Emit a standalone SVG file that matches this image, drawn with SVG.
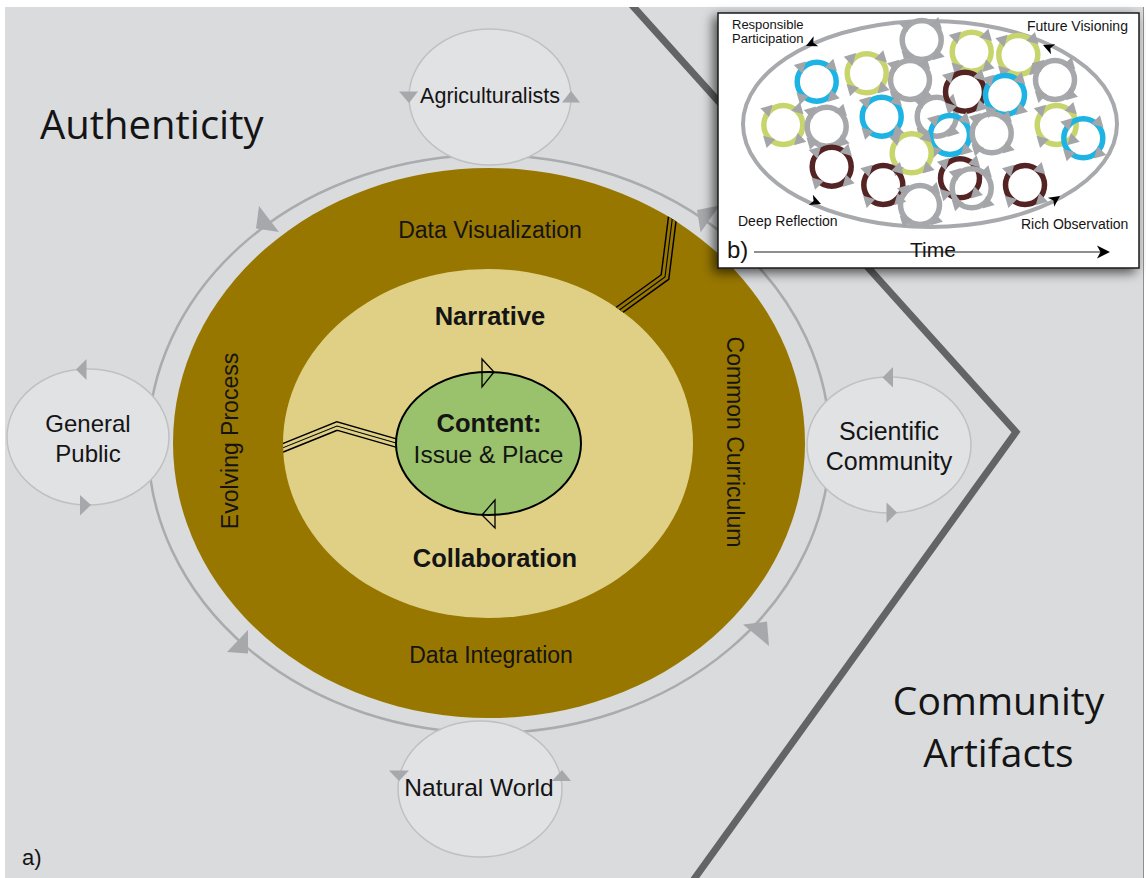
<svg xmlns="http://www.w3.org/2000/svg" xmlns:xlink="http://www.w3.org/1999/xlink" width="1146" height="878" viewBox="0 0 1146 878">
  <defs>
    <style>
      text { font-family: "Liberation Sans", Arial, sans-serif; fill: #141414; }
      .big { font-family: "Open Sans", "Noto Sans", sans-serif; }
      .node { fill: #e1e2e4; stroke: #bfc0c2; stroke-width: 1.5; }
      .tri { fill: #a6a8ab; }
      .lbl { font-size: 23px; text-anchor: middle; }
      .bold { font-weight: bold; font-size: 25.5px; text-anchor: middle; }
      .nl { font-size: 24.5px; text-anchor: middle; }
      .r { fill: none; stroke-width: 5.5; }
      .gy { stroke: #a6a8ab; }
      .yg { stroke: #c8d46c; }
      .cy { stroke: #1db4e4; }
      .br { stroke: #542424; }
      .sm { font-size: 14px; }
      .xs { font-size: 13px; }
      .tl { fill: none; stroke-linejoin: miter; stroke-miterlimit: 10; }
      .open { fill: none; stroke: #000; stroke-width: 1.3; stroke-linejoin: miter; }
    </style>
    <filter id="shadow" x="-10%" y="-10%" width="120%" height="125%">
      <feDropShadow dx="-4" dy="4" stdDeviation="6" flood-color="#000" flood-opacity="0.65"/>
    </filter>
    <clipPath id="page"><rect x="5" y="7" width="1138" height="871"/></clipPath>
    <clipPath id="band">
      <path clip-rule="evenodd" d="M173,443 a316,275 0 1,0 632,0 a316,275 0 1,0 -632,0 Z M283,443.5 a205,174.5 0 1,0 410,0 a205,174.5 0 1,0 -410,0 Z"/>
    </clipPath>
    <clipPath id="core">
      <ellipse cx="488" cy="443.5" rx="205" ry="174.5"/>
    </clipPath>
    <!-- four little turning arrows around a ring -->
    <g id="spin" fill="#a3a5a8" transform="scale(1.12)">
      <polygon points="9.55,18.03 20.51,14.85 12.73,7.07"/>
      <polygon points="-18.03,9.55 -14.85,20.51 -7.07,12.73"/>
      <polygon points="-9.55,-18.03 -20.51,-14.85 -12.73,-7.07"/>
      <polygon points="18.03,-9.55 14.85,-20.51 7.07,-12.73"/>
    </g>
    <g id="ring-gy"><circle r="19.5" class="r gy"/><use xlink:href="#spin"/></g>
    <g id="ring-yg"><circle r="19.5" class="r yg"/><use xlink:href="#spin"/></g>
    <g id="ring-cy"><circle r="19.5" class="r cy"/><use xlink:href="#spin"/></g>
    <g id="ring-br"><circle r="19.5" class="r br"/><use xlink:href="#spin"/></g>
    <path id="ah" d="M0,0 L-11,-5.5 L-8,0 L-11,5.5 Z" fill="#000"/>
  </defs>

  <!-- page -->
  <rect x="0" y="0" width="1146" height="878" fill="#ffffff"/>
  <rect x="5" y="7" width="1138" height="871" fill="#dadbdd"/>
  <line x1="1143.5" y1="7" x2="1143.5" y2="878" stroke="#8e8f91" stroke-width="1"/>

  <!-- boundary chevron -->
  <polyline points="630,3 1016,432 692,882" fill="none" stroke="#636466" stroke-width="7" stroke-linejoin="miter" clip-path="url(#page)"/>

  <!-- outer cycle ring -->
  <g id="cycle-ring">
    <ellipse cx="489" cy="444" rx="341" ry="289" fill="none" stroke="#a9abae" stroke-width="2.5"/>
    <polygon class="tri" points="259,206 279,232 256,228.5"/>
    <polygon class="tri" points="697,210 719.4,205.5 700.6,232.5"/>
    <polygon class="tri" points="248,630 227,652 248,653.5"/>
    <polygon class="tri" points="743,624.5 767,621.5 769,646"/>
  </g>

  <!-- layered core -->
  <g id="node-process">
    <ellipse cx="489" cy="443" rx="316" ry="275" fill="#987700"/>
    <text class="lbl" x="490" y="238">Data Visualization</text>
    <text class="lbl" x="491" y="663">Data Integration</text>
    <text class="lbl" transform="translate(238,441) rotate(-90)">Evolving Process</text>
    <text class="lbl" transform="translate(727,442) rotate(90)">Common Curriculum</text>
  </g>

  <g id="node-practice">
    <ellipse cx="488" cy="443.5" rx="205" ry="174.5" fill="#dfd086"/>
    <text class="bold" x="490" y="325">Narrative</text>
    <text class="bold" x="495" y="567">Collaboration</text>
  </g>

  <!-- triple-line links -->
  <g id="connectors">
    <g clip-path="url(#band)">
      <path class="tl" d="M600,324 L665,277 L674,205" stroke="#000" stroke-width="9.5"/>
      <path class="tl" d="M600,324 L665,277 L674,205" stroke="#987700" stroke-width="6.6"/>
      <path class="tl" d="M600,324 L665,277 L674,205" stroke="#000" stroke-width="1.1"/>
    </g>
    <g clip-path="url(#core)">
      <path class="tl" d="M270,453 L337,426 L410,447" stroke="#000" stroke-width="9.5"/>
      <path class="tl" d="M270,453 L337,426 L410,447" stroke="#dfd086" stroke-width="6.6"/>
      <path class="tl" d="M270,453 L337,426 L410,447" stroke="#000" stroke-width="1.1"/>
    </g>
  </g>

  <g id="node-content">
    <ellipse cx="488.5" cy="443.5" rx="92.5" ry="71.5" fill="#9ac16b" stroke="#000" stroke-width="2"/>
    <polygon class="open" points="482,359 494,372 482,387"/>
    <polygon class="open" points="495,500 482,515 495,528"/>
    <text class="bold" x="489" y="432">Content:</text>
    <text class="nl" x="488.5" y="463">Issue &amp; Place</text>
  </g>

  <!-- stakeholder nodes -->
  <g id="node-agriculturalists">
    <ellipse class="node" cx="490" cy="97" rx="81" ry="68"/>
    <polygon class="tri" points="399,91.5 418,91.5 409,103"/>
    <polygon class="tri" points="562,102.5 580,102.5 571,91"/>
    <text x="490" y="103" font-size="21.5" text-anchor="middle">Agriculturalists</text>
  </g>

  <g id="node-public">
    <ellipse class="node" cx="88" cy="437" rx="81" ry="68"/>
    <polygon class="tri" points="76,369.5 86.5,359 86.5,380"/>
    <polygon class="tri" points="80,495 80,515.5 91,505"/>
    <text x="88" y="432" font-size="24" text-anchor="middle">General</text>
    <text x="88" y="462" font-size="24" text-anchor="middle">Public</text>
  </g>

  <g id="node-science">
    <ellipse class="node" cx="889" cy="445" rx="82" ry="68"/>
    <polygon class="tri" points="882.5,377.5 893,367 893,387.5"/>
    <polygon class="tri" points="886.5,502.5 886.5,523 897,512.5"/>
    <text x="889" y="440" font-size="25" text-anchor="middle">Scientific</text>
    <text x="889" y="470" font-size="25" text-anchor="middle">Community</text>
  </g>

  <g id="node-nature">
    <ellipse class="node" cx="480" cy="789" rx="82" ry="68"/>
    <polygon class="tri" points="389,770.5 409,770.5 399,781"/>
    <polygon class="tri" points="552,781 571,781 562,770"/>
    <text x="479" y="796" font-size="24.5" text-anchor="middle">Natural World</text>
  </g>

  <!-- region titles -->
  <text class="big" x="40" y="139" font-size="40">Authenticity</text>
  <text class="big" x="998.5" y="715" font-size="39" text-anchor="middle">Community</text>
  <text class="big" x="998.5" y="767" font-size="39" text-anchor="middle">Artifacts</text>
  <text x="22" y="865" font-size="22">a)</text>

  <!-- panel b: many learning cycles over time -->
  <g id="panel-b">
    <rect x="718" y="13" width="421" height="255" fill="#ffffff" stroke="#1a1a1a" stroke-width="1.5" filter="url(#shadow)"/>
    <ellipse cx="930" cy="124" rx="187" ry="103" fill="none" stroke="#a7a9ac" stroke-width="4"/>

    <use xlink:href="#ring-gy" x="921.7" y="40"/>
    <use xlink:href="#ring-gy" x="910" y="80"/>
    <use xlink:href="#ring-yg" x="866.7" y="73.3"/>
    <use xlink:href="#ring-cy" x="816.7" y="81.7"/>
    <use xlink:href="#ring-yg" x="971.7" y="51.7"/>
    <use xlink:href="#ring-yg" x="1018.3" y="55"/>
    <use xlink:href="#ring-gy" x="1055" y="80"/>
    <use xlink:href="#ring-gy" x="936.7" y="116.7"/>
    <use xlink:href="#ring-br" x="965" y="91.7"/>
    <use xlink:href="#ring-cy" x="1005" y="95"/>
    <use xlink:href="#ring-yg" x="783.3" y="125"/>
    <use xlink:href="#ring-gy" x="826.7" y="126.7"/>
    <use xlink:href="#ring-cy" x="881.7" y="116.7"/>
    <use xlink:href="#ring-cy" x="950" y="135"/>
    <use xlink:href="#ring-gy" x="991.7" y="133.3"/>
    <use xlink:href="#ring-yg" x="1056.7" y="125"/>
    <use xlink:href="#ring-cy" x="1083.3" y="138.3"/>
    <use xlink:href="#ring-yg" x="911.7" y="153.3"/>
    <use xlink:href="#ring-br" x="831.7" y="166.7"/>
    <use xlink:href="#ring-br" x="883.3" y="185"/>
    <use xlink:href="#ring-br" x="960" y="178.3"/>
    <use xlink:href="#ring-gy" x="971.7" y="188.3"/>
    <use xlink:href="#ring-gy" x="920" y="205"/>
    <use xlink:href="#ring-br" x="1025" y="185"/>

    <!-- direction marks on the big loop -->
    <use xlink:href="#ah" transform="translate(806,46) rotate(155)"/>
    <use xlink:href="#ah" transform="translate(1043,45) rotate(203)"/>
    <use xlink:href="#ah" transform="translate(821,204) rotate(22)"/>
    <use xlink:href="#ah" transform="translate(1060,196) rotate(-35)"/>

    <text class="xs" x="732" y="29">Responsible</text>
    <text class="xs" x="732" y="43">Participation</text>
    <text class="sm" x="1027" y="31">Future Visioning</text>
    <text class="sm" x="738" y="226">Deep Reflection</text>
    <text class="sm" x="1021" y="229">Rich Observation</text>

    <line x1="754" y1="252" x2="1102" y2="252" stroke="#8d8f92" stroke-width="2"/>
    <path d="M1110,252 L1097,245.5 L1100.5,252 L1097,258.5 Z" fill="#000"/>
    <text x="910" y="257" font-size="21">Time</text>
    <text x="727" y="258" font-size="24">b)</text>
  </g>
</svg>
